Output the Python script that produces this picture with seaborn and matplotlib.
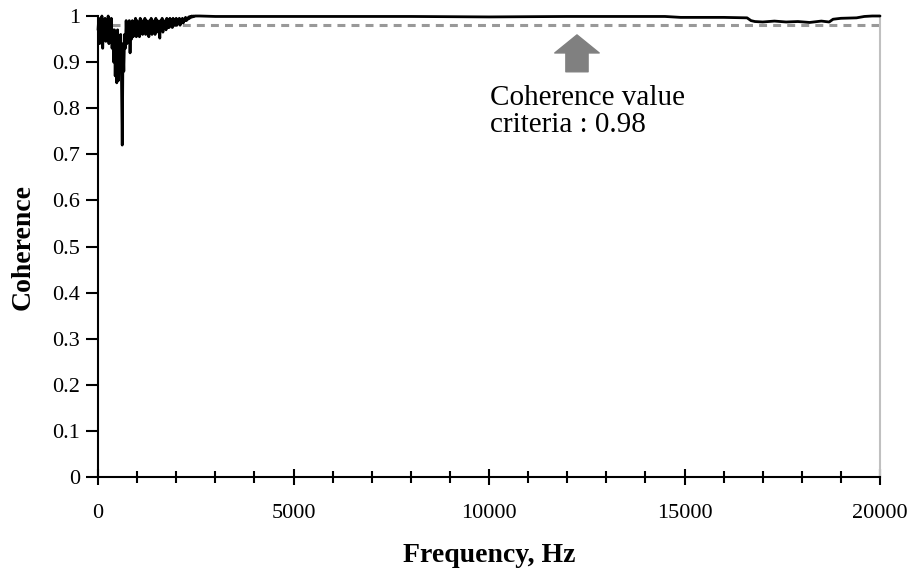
import matplotlib
matplotlib.use("Agg")
import matplotlib.pyplot as plt
import seaborn as sns
import pandas as pd

# ---- data ----
freq_low = [i * 20 for i in range(125)]  # 0 .. 2480 Hz
coh_low = [
    # 0-380 Hz
    0.97, 0.995, 0.94, 0.99, 0.95, 1.0, 0.93, 0.985, 0.96, 0.995,
    0.945, 0.99, 0.95, 1.0, 0.94, 0.98, 0.955, 0.995, 0.93, 0.97,
    # 400-680 Hz
    0.90, 0.97, 0.87, 0.96, 0.855, 0.97, 0.86, 0.95, 0.88, 0.96, 0.87, 0.72, 0.94, 0.88, 0.96,
    # 700-980 Hz
    0.93, 0.99, 0.94, 0.985, 0.95, 0.99, 0.92, 0.98, 0.95, 0.99, 0.955, 0.985, 0.96, 0.995, 0.955,
    # 1000-1480 Hz
    0.99, 0.96, 0.985, 0.955, 0.995, 0.965, 0.99, 0.96, 0.985, 0.97, 0.995, 0.96, 0.99,
    0.965, 0.985, 0.955, 0.99, 0.97, 0.995, 0.96, 0.985, 0.97, 0.99, 0.96, 0.995,
    # 1500-1980 Hz
    0.97, 0.99, 0.965, 0.985, 0.952, 0.99, 0.97, 0.995, 0.965, 0.985, 0.975, 0.99, 0.97,
    0.995, 0.975, 0.99, 0.975, 0.995, 0.98, 0.99, 0.975, 0.995, 0.98, 0.99, 0.98,
    # 2000-2480 Hz
    0.995, 0.98, 0.99, 0.985, 0.995, 0.98, 0.99, 0.985, 0.995, 0.985, 0.99, 0.99, 0.997,
    0.99, 0.995, 0.993, 0.998, 0.995, 0.999, 0.997, 1.0, 0.998, 1.0, 0.999, 1.0,
]
freq_high = [2600, 3000, 5000, 8000, 10000, 12000, 14500, 14900, 16000, 16600, 16700, 16800, 17000, 17300,
             17600, 17900, 18200, 18500, 18700, 18800, 19000, 19400, 19600, 19800, 20000]
coh_high = [1.0, 0.999, 0.999, 0.999, 0.998, 0.999, 0.999, 0.997, 0.997, 0.996, 0.990, 0.988, 0.987, 0.989,
            0.987, 0.988, 0.986, 0.989, 0.987, 0.993, 0.995, 0.996, 0.999, 1.0, 1.0]

criteria = 0.98
x_ticks = [0, 5000, 10000, 15000, 20000]
y_ticks = [0, 0.1, 0.2, 0.3, 0.4, 0.5, 0.6, 0.7, 0.8, 0.9, 1]
y_tick_labels = ["0", "0.1", "0.2", "0.3", "0.4", "0.5", "0.6", "0.7", "0.8", "0.9", "1"]

df = pd.DataFrame({"Frequency": freq_low + freq_high, "Coherence": coh_low + coh_high})

# ---- plot ----
sns.set_style("white")
plt.rcParams["font.family"] = ["Liberation Serif", "DejaVu Serif"]
plt.rcParams["text.color"] = "black"
plt.rcParams["axes.labelcolor"] = "black"
plt.rcParams["xtick.color"] = "black"
plt.rcParams["ytick.color"] = "black"

fig = plt.figure(figsize=(9.15, 5.86), dpi=100)
ax = fig.add_axes([98 / 915, 1 - 477 / 586, (880 - 98) / 915, (477 - 16) / 586])

ax.axhline(criteria, color="#999999", lw=2.2, dashes=(2.6, 2.0), zorder=1)
sns.lineplot(data=df, x="Frequency", y="Coherence", estimator=None, sort=False,
             color="black", lw=2.0, ax=ax, zorder=3)
for l in ax.lines:
    l.set_clip_on(False)

ax.set_xlim(0, 20000)
ax.set_ylim(0, 1)
ax.set_xticks(x_ticks)
ax.set_xticks(range(0, 20001, 1000), minor=True)
ax.set_yticks(y_ticks)
ax.set_yticklabels(y_tick_labels)

ax.tick_params(axis="x", which="major", direction="inout", length=11, width=1.5, pad=14,
               labelsize=16, bottom=True, colors="black")
ax.tick_params(axis="x", which="minor", direction="inout", length=9, width=1.5, bottom=True,
               colors="black")
ax.tick_params(axis="y", which="major", direction="out", length=9, width=1.5, pad=4,
               labelsize=16, left=True, colors="black")

for s in ["left", "bottom"]:
    ax.spines[s].set_color("black")
    ax.spines[s].set_linewidth(1.5)
ax.spines["top"].set_visible(False)
ax.spines["right"].set_color("#c0c0c0")
ax.spines["right"].set_linewidth(1.5)

ax.set_xlabel("Frequency, Hz", fontsize=20, fontweight="bold", labelpad=14, color="black")
ax.set_ylabel("Coherence", fontsize=20, fontweight="bold", labelpad=12, color="black")

ax.annotate("", xy=(12250, 0.959), xytext=(12250, 0.879),
            arrowprops=dict(arrowstyle="simple,head_length=0.65,head_width=1.6,tail_width=0.8",
                            mutation_scale=20, color="#808080", shrinkA=0, shrinkB=0))
ax.text(10030, 0.85, "Coherence value\ncriteria : 0.98", fontsize=21, va="top", ha="left",
        linespacing=1.05, color="black")

fig.savefig("out.png", dpi=100)
